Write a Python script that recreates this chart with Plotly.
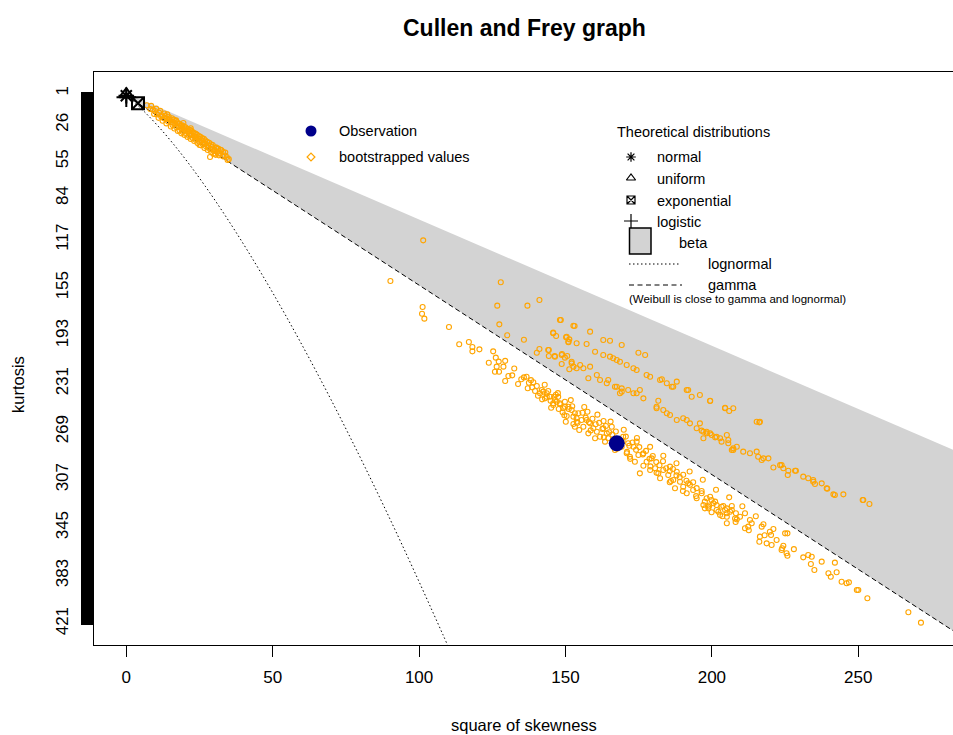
import plotly.graph_objects as go

# ---------------- data ----------------
kurt_max = 421
x_ticks = [0, 50, 100, 150, 200, 250]
y_tick_labels = [1, 26, 55, 84, 117, 155, 193, 231, 269, 307, 345, 383, 421]

# theoretical distributions (square of skewness, kurtosis)
theo_names = ["normal", "uniform", "exponential", "logistic"]
theo_s2 = [0, 0, 4, 0]
theo_kurt = [3, 1.8, 9, 4.2]

beta_s2 = [0, 300, 300, 0]
beta_kurt = [1, 301, 453, 3]

gamma_s2 = [0, 300]
gamma_kurt = [3, 453]

lognorm_s2 = [0, 0.961, 2.048, 3.267, 4.624, 6.125, 7.776, 11.552, 16, 21.168, 27.104,
              33.856, 41.472, 50, 59.488, 69.984, 81.536, 94.192, 108, 115.35]
lognorm_kurt = [3, 4.756, 6.85, 9.32, 12.21, 15.56, 19.43, 28.88, 41, 56.24, 75.11,
                98.13, 125.89, 159, 198.11, 243.92, 297.15, 358.58, 429, 467.85]

obs_s2 = [167.5]
obs_kurt = [278.2]

# bootstrapped values (square of skewness, kurtosis)
boot_points = [
    # cluster near the origin
    (7.0, 10.6), (8.2, 13.5), (9.1, 14.0), (9.8, 15.1), (10.5, 17.8), (11.2, 16.4), (11.9, 19.5),
    (12.1, 18.5), (12.8, 20.9), (13.4, 19.0), (13.8, 21.2), (14.3, 23.5), (14.9, 22.0), (15.5, 23.8),
    (15.8, 26.1), (16.2, 21.9), (16.7, 25.0), (17.1, 27.9), (17.4, 24.2), (17.8, 27.8), (18.2, 30.5),
    (18.6, 26.4), (19.0, 29.0), (19.3, 31.8), (19.7, 27.5), (20.0, 30.4), (20.4, 33.2), (20.8, 29.1),
    (21.1, 31.6), (21.5, 34.8), (21.9, 30.2), (22.3, 34.3), (22.6, 36.5), (23.0, 32.4), (23.4, 35.1),
    (23.7, 37.9), (24.1, 33.8), (24.6, 37.0), (24.9, 39.4), (25.3, 35.5), (25.7, 38.3), (26.1, 41.2),
    (26.5, 37.2), (26.9, 41.0), (27.2, 43.1), (27.6, 39.5), (28.0, 42.4), (28.6, 45.2), (28.9, 41.5),
    (29.2, 43.6), (29.7, 48.9), (30.1, 45.8), (30.6, 43.9), (31.0, 47.6), (31.4, 44.9), (32.0, 48.5),
    (32.5, 46.2), (33.1, 47.6), (33.6, 50.3), (34.3, 51.5), (28.6, 51.5), (35.0, 53.2), (19.5, 24.6),
    (22.0, 28.7), (25.0, 42.0), (17.0, 22.5), (14.0, 17.8), (30.5, 49.8),
    (8.5, 11.0), (9.5, 17.5), (10.2, 13.2), (11.0, 20.5), (11.6, 15.0), (12.4, 22.8), (13.0, 17.1),
    (13.7, 24.9), (14.5, 19.6), (15.2, 27.4), (15.6, 20.8), (16.4, 28.9), (16.9, 23.1), (17.6, 30.9),
    (18.0, 25.0), (18.8, 32.8), (19.1, 26.5), (19.9, 34.0), (20.2, 28.0), (20.9, 35.7), (21.3, 29.6),
    (22.0, 37.3), (22.4, 31.2), (23.2, 38.9), (23.6, 33.0), (24.3, 40.5), (24.8, 35.0), (25.5, 42.3),
    (25.9, 36.6), (26.7, 44.4), (27.0, 38.4), (27.8, 46.0), (28.3, 40.2), (29.0, 47.5), (29.5, 42.0),
    (30.3, 48.9), (30.8, 44.5), (31.6, 50.2), (32.2, 45.8), (33.0, 51.0), (33.8, 48.0), (34.6, 53.8),
    (21.7, 32.9), (23.8, 36.2), (26.3, 39.9), (18.4, 28.3), (16.0, 24.5), (27.9, 44.0), (29.9, 46.6),
    (31.8, 49.0),
    # lower band, start
    (90.2, 149.7), (101.2, 170.3), (101.0, 175.6), (101.8, 179.5), (110.2, 186.1), (113.7, 199.8),
    (117.0, 198.0), (118.2, 202.0), (118.2, 205.4), (120.6, 203.8), (125.3, 205.4), (126.2, 210.4),
    (127.2, 213.5), (129.4, 212.9), (128.8, 217.5), (126.5, 217.5), (125.9, 221.5), (127.3, 221.5),
    (123.8, 214.4), (130.5, 224.9), (131.8, 224.4), (129.4, 228.9),
    (133.8, 231.2), (134.9, 227.5), (136.7, 225.5), (137.1, 234.6), (139.0, 229.9), (140.2, 232.8),
    (139.6, 236.8), (141.3, 238.6), (142.4, 237.3), (143.6, 241.3), (144.1, 236.8), (142.0, 243.4),
    (146.1, 241.3), (145.8, 246.5), (147.0, 245.3), (148.1, 247.3), (147.7, 251.0), (149.0, 253.7),
    (149.8, 249.2), (151.1, 251.0), (150.4, 256.6), (153.2, 254.4), (153.8, 258.4), (152.7, 262.9),
    (150.1, 261.1), (154.7, 267.7), (153.2, 265.1),
    # lower band, middle
    (141.9, 236.0), (143.6, 238.6), (143.0, 242.6), (144.7, 241.3), (146.4, 243.9), (147.5, 241.3),
    (145.8, 247.9), (148.1, 246.5), (149.8, 245.3), (151.0, 249.2), (149.2, 250.5), (152.1, 251.8),
    (152.7, 257.1), (154.4, 254.4), (155.5, 259.8), (153.8, 261.1), (157.2, 259.8), (158.4, 262.4),
    (156.1, 265.1), (159.5, 266.3), (157.8, 270.3), (160.7, 269.0), (161.8, 273.0), (160.1, 274.2),
    (162.9, 266.3), (164.1, 270.3), (163.5, 276.9), (165.8, 265.1), (164.6, 274.2), (166.9, 283.5),
    (169.2, 280.9), (169.7, 273.0), (171.4, 278.2), (170.9, 286.1), (173.2, 280.9), (174.3, 276.9),
    (172.0, 288.8), (174.9, 287.5), (176.6, 286.1), (173.7, 292.8), (177.7, 292.8), (179.4, 290.1),
    (175.4, 302.0), (178.9, 299.3), (180.6, 298.0), (181.7, 302.0), (183.4, 299.3), (182.3, 305.9),
    (185.1, 303.3), (186.8, 307.3), (185.7, 296.7), (188.0, 300.7), (189.1, 308.6), (187.4, 313.8),
    (190.2, 312.6), (191.9, 309.9), (191.4, 317.8), (193.6, 315.2), (194.8, 321.7), (196.5, 317.8),
    (197.6, 324.4), (199.4, 320.5), (200.5, 325.7), (198.8, 329.7), (201.6, 331.0), (203.3, 328.4),
    (205.1, 333.6), (202.8, 334.9), (206.8, 331.0), (209.6, 336.3), (207.9, 337.7),
    (155.8, 254.0), (156.9, 257.9), (158.0, 261.5), (159.2, 258.8), (160.3, 263.1), (161.5, 262.0),
    (162.6, 266.8), (163.8, 264.5), (164.9, 269.5), (166.0, 271.3), (167.2, 268.9), (168.3, 274.8),
    (169.5, 276.4), (170.6, 272.9), (171.8, 280.1), (172.9, 277.6), (174.1, 283.4), (175.2, 281.2),
    (176.4, 287.0), (177.5, 284.2), (178.7, 290.4), (179.8, 288.2), (181.0, 293.1), (182.1, 295.6),
    (183.3, 292.4), (184.4, 297.9), (185.6, 300.1), (186.7, 298.5), (187.9, 303.6), (189.0, 305.0),
    (190.2, 303.1), (191.3, 307.9), (192.5, 311.1), (193.6, 309.0), (194.8, 313.7), (137.5, 230.2),
    (138.6, 233.9), (144.9, 244.5), (146.7, 239.8), (152.3, 248.9), (157.5, 253.2), (163.0, 260.5),
    (171.0, 285.0), (179.0, 296.5), (186.0, 308.0),
    (132.5, 219.0), (135.8, 226.0), (138.2, 228.2), (140.6, 240.5), (142.9, 231.8), (145.1, 250.0),
    (147.4, 238.5), (149.6, 256.0), (151.8, 244.0), (154.1, 262.0), (156.4, 249.5), (158.6, 268.0),
    (160.9, 255.5), (163.1, 273.5), (165.4, 261.0), (167.6, 282.5), (169.9, 267.5), (172.1, 290.5),
    (174.4, 274.0), (176.6, 296.0), (178.9, 281.0), (181.1, 301.5), (183.4, 288.0), (185.6, 309.0),
    (187.9, 294.0), (190.1, 316.0), (192.4, 300.5), (194.6, 320.0), (196.9, 307.0), (199.1, 327.5),
    (201.4, 315.0), (203.6, 336.0), (205.9, 321.0), (208.1, 340.5), (210.4, 328.0), (212.6, 347.0),
    (215.0, 336.0), (218.0, 351.0), (221.0, 346.0), (228.0, 362.0),
    # lower band, end
    (196.5, 316.0), (198.2, 321.7), (199.9, 323.1), (201.1, 324.4), (197.1, 327.0), (198.8, 328.4),
    (197.6, 329.7), (201.6, 327.0), (203.9, 327.8), (205.1, 329.7), (206.8, 327.8), (199.9, 332.8),
    (202.2, 332.4), (204.5, 331.0), (206.2, 332.4), (208.2, 333.6), (211.3, 333.6), (205.1, 336.3),
    (208.5, 338.4), (213.0, 338.9), (213.6, 341.5), (211.3, 345.5), (212.4, 344.2), (205.1, 341.5),
    (217.0, 344.2), (217.6, 342.3), (219.8, 348.2), (220.2, 350.8), (216.4, 352.1), (218.7, 357.4),
    (220.4, 358.7), (222.1, 354.8), (224.4, 359.3), (223.8, 362.7), (225.5, 365.3), (225.8, 367.2),
    (225.0, 349.5), (225.8, 349.5), (224.0, 361.3), (216.2, 356.1),
    (231.2, 368.5), (232.9, 366.6), (234.1, 368.0), (233.8, 373.8), (235.0, 378.5), (237.5, 371.9),
    (239.8, 381.1), (240.6, 383.8), (242.0, 372.7), (242.6, 380.3), (244.3, 387.8), (246.0, 389.0),
    (246.8, 388.3), (249.5, 394.3), (250.0, 394.3), (253.1, 400.9), (267.1, 412.0), (271.4, 420.2),
    # inside the beta region
    (101.4, 117.5), (127.9, 150.7), (126.7, 169.2), (137.0, 169.2), (141.1, 164.7), (127.4, 184.0),
    (130.1, 192.7), (135.8, 196.2), (140.2, 206.5), (141.1, 203.5), (144.3, 204.3), (144.3, 209.1),
    (148.4, 180.6), (153.1, 185.3), (145.8, 190.6), (146.8, 193.2), (150.2, 194.3), (151.3, 195.9),
    (151.0, 198.2), (146.3, 209.1), (148.8, 207.5), (149.8, 210.4), (150.6, 209.1), (148.7, 215.4),
    (152.1, 214.9), (152.7, 217.5), (151.3, 219.6), (153.8, 218.8),
    (148.1, 180.6), (152.7, 185.1), (158.4, 189.8), (145.8, 191.1), (150.4, 193.8), (153.8, 199.0),
    (162.9, 196.4), (165.2, 197.0), (169.2, 200.4), (174.9, 206.5), (177.2, 208.3), (151.0, 197.7),
    (157.2, 199.6), (144.1, 204.3), (146.4, 209.6), (148.7, 208.3), (152.1, 213.6), (155.0, 216.2),
    (156.1, 218.8), (158.4, 217.5), (160.1, 205.7), (162.9, 208.3), (165.2, 209.6), (167.5, 212.2),
    (170.9, 216.2), (173.2, 218.8), (160.7, 224.1), (161.8, 228.1), (157.8, 226.7), (164.6, 228.1),
    (166.9, 233.4), (169.2, 234.7), (168.6, 238.6), (171.4, 236.0), (174.3, 238.6), (175.4, 236.0),
    (177.7, 224.1), (178.9, 225.5), (182.3, 228.1), (184.6, 230.7), (186.8, 233.4), (188.0, 229.4),
    (191.4, 236.0), (193.1, 241.3), (195.9, 240.0), (199.4, 244.7), (181.1, 249.2), (183.4, 251.8),
    (185.7, 255.8), (188.0, 259.7), (190.2, 258.4), (192.5, 262.4), (194.8, 266.3), (197.1, 269.0),
    (199.4, 270.3), (201.6, 273.0), (203.3, 276.9), (205.1, 271.6), (206.8, 283.5), (208.5, 280.9),
    (210.7, 284.8), (213.0, 286.1), (215.3, 261.1), (204.5, 250.5), (207.3, 250.5),
    (199.4, 244.5), (204.5, 250.0), (205.9, 252.6), (195.9, 262.4), (196.5, 268.2), (198.2, 270.3),
    (199.9, 271.6), (201.1, 273.5), (202.8, 274.2), (197.1, 274.2), (205.6, 278.2), (207.3, 283.5),
    (215.3, 284.8), (215.8, 288.8), (217.0, 291.4), (219.3, 290.1), (216.2, 261.6), (221.0, 297.3),
    (223.3, 295.5), (224.4, 298.0), (226.1, 299.9), (225.9, 303.3), (228.7, 299.9), (231.2, 304.6),
    (232.9, 305.9), (234.6, 307.3), (235.2, 310.4), (237.5, 309.9), (239.4, 314.1), (241.5, 318.6),
    (244.9, 318.6), (251.5, 323.1), (253.8, 326.3),
    (166.3, 210.9), (168.6, 213.6), (174.3, 220.2), (182.9, 227.5), (186.3, 233.4), (191.9, 236.0),
    (216.4, 261.1), (164.1, 230.7), (167.5, 233.4), (169.2, 237.3), (173.2, 238.6), (176.6, 242.6),
    (181.7, 244.5), (181.1, 250.5), (184.6, 254.4), (191.4, 259.8), (198.2, 269.0), (205.6, 275.6),
    (207.3, 282.2), (217.6, 290.1), (223.8, 295.4), (228.4, 299.9), (234.6, 308.6), (239.2, 313.8),
    (242.0, 319.1), (251.7, 323.1),
]
boot_s2 = [p[0] for p in boot_points]
boot_kurt = [p[1] for p in boot_points]

# ---------------- layout constants (pixels) ----------------
W, H = 953, 735
L, R, T, B = 94, 953, 72, 645
FONT = "Liberation Sans, Arial, Helvetica, sans-serif"
ORANGE = "#FFA500"
DARKBLUE = "#00008B"
GREY = "#D3D3D3"

fig = go.Figure()

# beta region
fig.add_trace(go.Scatter(x=beta_s2, y=beta_kurt, fill="toself", fillcolor=GREY,
                         mode="none", hoverinfo="skip", showlegend=False))
# gamma line
fig.add_trace(go.Scatter(x=gamma_s2, y=gamma_kurt, mode="lines",
                         line=dict(color="black", width=1, dash="5px,3px"), showlegend=False))
# lognormal line
fig.add_trace(go.Scatter(x=lognorm_s2, y=lognorm_kurt, mode="lines",
                         line=dict(color="black", width=1, dash="1.5px,2.5px", shape="spline"),
                         showlegend=False))
# bootstrap
fig.add_trace(go.Scatter(x=boot_s2, y=boot_kurt, mode="markers",
                         marker=dict(symbol="circle-open", size=5, color=ORANGE,
                                     line=dict(width=1.1, color=ORANGE)),
                         showlegend=False))
# observation
fig.add_trace(go.Scatter(x=obs_s2, y=obs_kurt, mode="markers",
                         marker=dict(symbol="circle", size=16, color=DARKBLUE),
                         showlegend=False))
# theoretical points
theo_symbols = ["asterisk-open", "triangle-up-open", "square-x-open", "cross-thin-open"]
theo_sizes = [13, 12, 12, 14]
for nm, sx, ky, sym, sz in zip(theo_names, theo_s2, theo_kurt, theo_symbols, theo_sizes):
    fig.add_trace(go.Scatter(x=[sx], y=[ky], mode="markers", name=nm,
                             marker=dict(symbol=sym, size=sz, color="black",
                                         line=dict(width=2, color="black")),
                             showlegend=False, cliponaxis=False))

# ---------------- legend glyphs on a pixel overlay ----------------
def glyph(px, py, symbol, size, color, lw=1.2):
    fig.add_trace(go.Scatter(x=[px], y=[py], xaxis="x2", yaxis="y2", mode="markers",
                             marker=dict(symbol=symbol, size=size, color=color,
                                         line=dict(width=lw, color=color)),
                             showlegend=False, hoverinfo="skip", cliponaxis=False))

glyph(311, 131, "circle", 11, DARKBLUE, 0)
glyph(311, 157, "diamond-open", 6, ORANGE, 1.2)
glyph(631, 157, "asterisk-open", 8, "black", 1.2)
glyph(631, 178, "triangle-up-open", 8, "black", 1.2)
glyph(631, 200, "square-x-open", 8, "black", 1.2)
glyph(631, 221, "cross-thin-open", 10, "black", 1.2)

annotations = []

def txt(px, py, s, size=14.5, anchor="left"):
    annotations.append(dict(x=px, y=py, xref="x2", yref="y2", text=s, showarrow=False,
                            xanchor=anchor, yanchor="middle",
                            font=dict(size=size, color="black", family=FONT)))

txt(337, 131, "Observation")
txt(337, 157, "bootstrapped values")
txt(615, 132, "Theoretical distributions")
txt(655, 157, "normal")
txt(655, 179, "uniform")
txt(655, 201, "exponential")
txt(655, 222, "logistic")
txt(677, 243, "beta")
txt(706, 264, "lognormal")
txt(706, 285, "gamma")
txt(627, 299, "(Weibull is close to gamma and lognormal)", size=11.5)

shapes = [
    dict(type="rect", xref="x2", yref="y2", x0=629.5, x1=651, y0=228, y1=254,
         fillcolor=GREY, line=dict(color="black", width=1.5)),
    dict(type="line", xref="x2", yref="y2", x0=629, x1=679, y0=264, y1=264,
         line=dict(color="black", width=1, dash="1.5px,2.5px")),
    dict(type="line", xref="x2", yref="y2", x0=629, x1=682, y0=285, y1=285,
         line=dict(color="black", width=1, dash="5px,3.5px")),
]

# axis titles / title
pw, ph = R - L, B - T
annotations.append(dict(x=(524 - L) / pw, y=(B - 725) / ph, xref="paper", yref="paper",
                        text="square of skewness", showarrow=False, xanchor="center",
                        yanchor="middle", font=dict(size=16.5, color="black", family=FONT)))
annotations.append(dict(x=(18 - L) / pw, y=(B - 385) / ph, xref="paper", yref="paper",
                        text="kurtosis", showarrow=False, textangle=-90, xanchor="center",
                        yanchor="middle", font=dict(size=16.5, color="black", family=FONT)))
annotations.append(dict(x=(524 - L) / pw, y=(B - 28) / ph, xref="paper", yref="paper",
                        text="<b>Cullen and Frey graph</b>", showarrow=False, xanchor="center",
                        yanchor="middle", font=dict(size=23, color="black", family=FONT)))

# ---------------- axes ----------------
s2_per_px = 50 / 146.4
x0_px = 126.3
x_range = [(L - x0_px) * s2_per_px, (R - x0_px) * s2_per_px]
k_per_px = 1 / 1.263
y_range = [1 + (B - 93.2) * k_per_px, 1 + (T - 93.2) * k_per_px]

y_tickvals = list(range(1, kurt_max + 1))
y_ticktext = [str(v) if v in y_tick_labels else "" for v in y_tickvals]

fig.update_layout(
    width=W, height=H,
    margin=dict(l=L, r=W - R, t=T, b=H - B, pad=0),
    paper_bgcolor="white", plot_bgcolor="white",
    font=dict(family=FONT, color="black"),
    showlegend=False,
    xaxis=dict(range=x_range, tickvals=x_ticks, ticktext=[str(v) for v in x_ticks],
               ticks="outside", ticklen=11, tickwidth=1, tickcolor="black",
               showline=True, linecolor="black", linewidth=1, mirror=True,
               showgrid=False, zeroline=False, tickfont=dict(size=17, color="black"),
               ticklabelstandoff=6),
    yaxis=dict(range=y_range, tickvals=y_tickvals, ticktext=y_ticktext, tickangle=-90,
               ticks="outside", ticklen=12, tickwidth=1.7, tickcolor="black",
               showline=True, linecolor="black", linewidth=1, mirror=False,
               showgrid=False, zeroline=False, tickfont=dict(size=17, color="black"),
               ticklabelstandoff=6),
    xaxis2=dict(range=[L, R], overlaying="x", visible=False, fixedrange=True),
    yaxis2=dict(range=[B, T], overlaying="y", visible=False, fixedrange=True),
    annotations=annotations,
    shapes=shapes,
)

fig.write_html("out.html")
